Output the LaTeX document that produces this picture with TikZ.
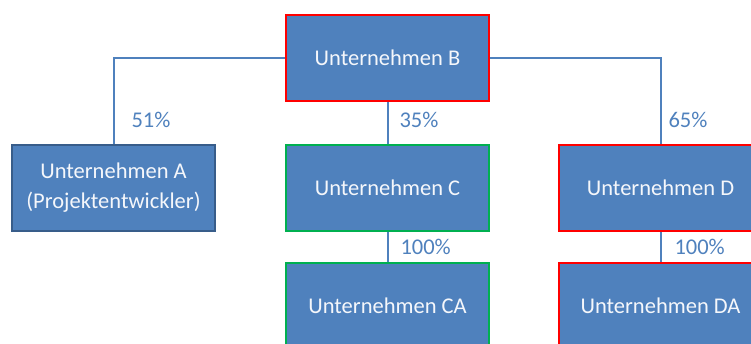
\documentclass[tikz,border=0pt]{standalone}
\usepackage{fontspec}
\setmainfont{Carlito}
\usetikzlibrary{positioning}
\definecolor{boxblue}{HTML}{4F81BD}
\definecolor{boxedge}{HTML}{385D8A}
\definecolor{edgered}{HTML}{FF0000}
\definecolor{edgegreen}{HTML}{00B050}
\tikzset{
  firma/.style={draw=boxedge, line width=2pt, fill=boxblue, text=white!94!boxblue,
    minimum width=203pt, minimum height=86pt, inner sep=0pt,
    align=center, font=\fontsize{22.5}{27}\selectfont},
  rot/.style={firma, draw=edgered},
  gruen/.style={firma, draw=edgegreen},
  anteil/.style={text=boxblue, inner sep=0pt, anchor=west,
    font=\fontsize{22.5}{27}\selectfont},
  link/.style={draw=boxblue, line width=2pt},
}
\begin{document}
\begin{tikzpicture}[x=1pt, y=-1pt]
  \useasboundingbox (0,0) rectangle (751,343);
  \clip (0,0) rectangle (751,343);

  \node[rot] (b) at (387.5,58) {Unternehmen B};
  \node[gruen, below=42pt of b] (c) {Unternehmen C};
  \node[firma, left=69pt of c] (a) {Unternehmen A\\[3pt](Projektentwickler)};
  \node[rot, right=68pt of c] (d) {Unternehmen D};
  \node[gruen, below=30pt of c] (ca) {Unternehmen CA};
  \node[rot, below=30pt of d] (da) {Unternehmen DA};

  % Beteiligungen
  \path[link]
    (b.west) -| node[anteil, pos=0.86, xshift=17pt] {51\%} (a.north)
    (b.east) -| node[anteil, pos=0.86, xshift=7pt] {65\%} (d.north)
    (b) -- node[anteil, pos=0.42, xshift=11pt] {35\%} (c)
    (c) -- node[anteil, xshift=12pt] {100\%} (ca)
    (d) -- node[anteil, xshift=13pt] {100\%} (da);
\end{tikzpicture}
\end{document}
